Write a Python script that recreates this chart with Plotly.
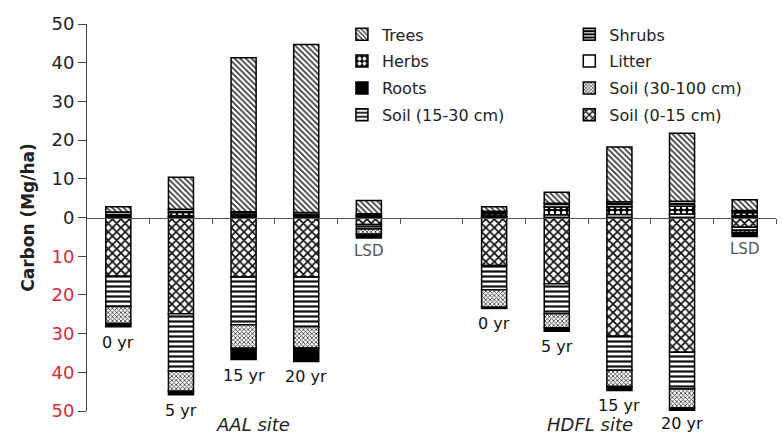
import plotly.graph_objects as go

# ---- data ----
bar_labels = ["0 yr", "5 yr", "15 yr", "20 yr", "LSD", "",
              "0 yr", "5 yr", "15 yr", "20 yr", "LSD"]
site_labels = ["AAL site", "HDFL site"]
site_centers = [3.15, 8.53]

# above-ground (positive)
litter = [0.1, 0.3, 0.3, 0.3, 0.3, None, 0.2, 0.7, 0.8, 0.9, 0.4]
herbs  = [0.6, 1.0, 0.6, 0.5, 0.4, None, 0.8, 2.0, 2.0, 2.0, 0.8]
shrubs = [0.7, 0.8, 0.6, 0.5, 0.3, None, 0.6, 1.0, 1.3, 1.3, 0.6]
trees  = [1.4, 8.3, 39.8, 43.4, 3.4, None, 1.2, 2.8, 14.1, 17.6, 2.8]
# below-ground (shown downward)
soil_0_15   = [15.2, 24.9, 15.4, 15.4, 1.8, None, 12.4, 17.1, 30.7, 34.8, 2.5]
soil_15_30  = [7.8, 14.8, 12.3, 12.8, 1.2, None, 6.3, 7.8, 8.8, 9.5, 0.8]
soil_30_100 = [4.4, 5.2, 6.1, 5.5, 1.3, None, 4.5, 3.6, 4.2, 4.9, 0.6]
roots       = [0.8, 0.9, 2.9, 3.5, 1.0, None, 0.3, 0.9, 1.0, 0.8, 1.0]

y_tick_vals = [-50, -40, -30, -20, -10, 0, 10, 20, 30, 40, 50]

x = list(range(1, len(bar_labels) + 1))
FONT = "DejaVu Sans, Arial, sans-serif"


def neg(v):
    return [None if a is None else -a for a in v]


def pat(shape, fg, bg, size, sol):
    return dict(shape=shape, fgcolor=fg, bgcolor=bg, size=size, solidity=sol, fillmode="replace")


series = [
    # name, values, sign, fill color, pattern, legend, rank
    ("Litter", litter, 1, "white", None, "legend2", 2),
    ("Herbs", herbs, 1, "black", pat(".", "white", "black", 6, 0.45), "legend", 2),
    ("Shrubs", shrubs, 1, "black", pat("-", "white", "black", 4, 0.35), "legend2", 1),
    ("Trees", trees, 1, "white", pat("\\", "#333333", "white", 4, 0.4), "legend", 1),
    ("Soil (0-15 cm)", soil_0_15, -1, "white", pat("x", "#111111", "white", 6, 0.5), "legend2", 4),
    ("Soil (15-30 cm)", soil_15_30, -1, "white", pat("-", "#111111", "white", 5, 0.45), "legend", 4),
    ("Soil (30-100 cm)", soil_30_100, -1, "white", pat("x", "#333333", "white", 3, 0.45), "legend2", 3),
    ("Roots", roots, -1, "black", None, "legend", 3),
]

fig = go.Figure()
for name, vals, sign, color, pattern, leg, rank in series:
    yv = vals if sign > 0 else neg(vals)
    marker = dict(color=color, line=dict(color="black", width=1.5))
    if pattern is not None:
        marker["pattern"] = pattern
    fig.add_trace(go.Bar(x=x, y=yv, name=name, marker=marker, width=0.4,
                         legend=leg, legendrank=rank, legendgroup=name))

# labels below each bar
for i, lab in enumerate(bar_labels):
    if not lab:
        continue
    bottom = -(soil_0_15[i] + soil_15_30[i] + soil_30_100[i] + roots[i])
    is_lsd = lab == "LSD"
    if is_lsd:
        shift = -2
    elif bottom < -48:
        shift = -1
    else:
        shift = -4
    fig.add_annotation(x=x[i], y=bottom, text=lab, showarrow=False,
                       yanchor="top", yshift=shift,
                       font=dict(family=FONT, size=15 if is_lsd else 16,
                                 color="#555555" if is_lsd else "#111111"))

# site labels
for cx, lab in zip(site_centers, site_labels):
    fig.add_annotation(x=cx, xref="x", y=0, yref="paper", yshift=-13, text="<i>%s</i>" % lab,
                       showarrow=False, yanchor="middle",
                       font=dict(family=FONT, size=18, color="#222"))

tick_text = []
for v in y_tick_vals:
    if v < 0:
        tick_text.append('<span style="color:#d8283a">%d</span>' % abs(v))
    else:
        tick_text.append("%d" % v)

leg_common = dict(xanchor="left", yanchor="top", bgcolor="rgba(0,0,0,0)",
                  font=dict(family=FONT, size=16, color="#222"), tracegroupgap=3,
                  traceorder="grouped")

fig.update_layout(
    width=782, height=434,
    margin=dict(l=87, r=6, t=24, b=23),
    paper_bgcolor="white", plot_bgcolor="white",
    barmode="relative",
    font=dict(family=FONT, color="#222"),
    xaxis=dict(range=[0.5, 11.5], showgrid=False, zeroline=False, showline=True,
               linecolor="#555555", linewidth=1, anchor="free", position=0.5,
               tickmode="array", tickvals=[v + 0.5 for v in x], ticks="outside",
               ticklen=5, tickcolor="#555555", showticklabels=False),
    yaxis=dict(range=[-50, 50], showgrid=False, zeroline=False, showline=True,
               linecolor="#444444", linewidth=1, ticks="outside", ticklen=8,
               tickcolor="#444444", tickmode="array", tickvals=y_tick_vals,
               ticktext=tick_text, tickfont=dict(family=FONT, size=18, color="#222"),
               title=dict(text="<b>Carbon (Mg/ha)</b>", font=dict(family=FONT, size=17, color="#222"),
                          standoff=12)),
    legend=dict(x=0.37, y=1.017, **leg_common),
    legend2=dict(x=0.70, y=1.017, **leg_common),
)

fig.write_html("out.html")
